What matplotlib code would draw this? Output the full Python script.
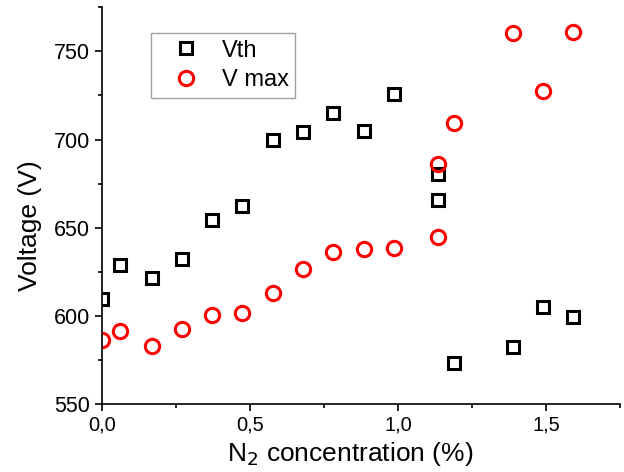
import matplotlib
matplotlib.use("Agg")
import matplotlib.pyplot as plt
from matplotlib.ticker import MultipleLocator, FixedLocator

plt.rcParams['font.family'] = ['Liberation Sans', 'DejaVu Sans']

x_vth = [0.0, 0.062, 0.169, 0.270, 0.373, 0.475, 0.578, 0.678, 0.782, 0.884, 0.988,
         1.134, 1.134, 1.188, 1.389, 1.490, 1.591]
vth = [609.4, 628.9, 621.2, 632.1, 654.3, 662.2, 700.0, 704.1, 715.1, 705.1, 726.0,
       680.2, 666.0, 573.2, 582.4, 605.3, 599.4]

x_vmax = [0.0, 0.062, 0.169, 0.270, 0.373, 0.475, 0.578, 0.678, 0.782, 0.884, 0.988,
          1.134, 1.134, 1.188, 1.389, 1.490, 1.591]
vmax = [586.2, 591.2, 582.7, 592.5, 600.6, 601.4, 612.7, 626.8, 636.2, 638.2, 638.7,
        645.0, 686.3, 709.5, 760.4, 727.8, 761.0]

xticks = [0.0, 0.5, 1.0, 1.5]
xtick_labels = ["0,0", "0,5", "1,0", "1,5"]
yticks = [550, 600, 650, 700, 750]
ytick_labels = ["550", "600", "650", "700", "750"]

fig = plt.figure(figsize=(6.24, 4.72), dpi=100)
ax = fig.add_axes([0.163, 0.144, 0.8306, 0.8405])

ax.plot(x_vth, vth, linestyle='none', marker='s', markersize=9.3,
        markerfacecolor='none', markeredgecolor='black', markeredgewidth=2.2,
        label='Vth')
ax.plot(x_vmax, vmax, linestyle='none', marker='o', markersize=10.3,
        markerfacecolor='none', markeredgecolor='red', markeredgewidth=2.2,
        label='V max')

ax.set_xlim(0, 1.75)
ax.set_ylim(550, 775)
ax.xaxis.set_major_locator(FixedLocator(xticks))
ax.set_xticklabels(xtick_labels)
ax.yaxis.set_major_locator(FixedLocator(yticks))
ax.set_yticklabels(ytick_labels)
ax.xaxis.set_minor_locator(MultipleLocator(0.25))
ax.yaxis.set_minor_locator(MultipleLocator(25))

for s in ['top', 'right']:
    ax.spines[s].set_visible(False)
for s in ['left', 'bottom']:
    ax.spines[s].set_linewidth(1.2)

ax.tick_params(which='major', direction='out', length=5, width=1.2, pad=3.6)
ax.tick_params(which='minor', direction='out', length=2.6, width=1.2)
ax.tick_params(axis='x', which='major', labelsize=14.5)
ax.tick_params(axis='y', which='major', labelsize=15.5)

ax.set_xlabel('N$_2$ concentration (%)', fontsize=19)
ax.set_ylabel('Voltage (V)', fontsize=19)
ax.xaxis.set_label_coords(0.479, -0.091)
ax.yaxis.set_label_coords(-0.115, 0.449)

leg = ax.legend(loc='upper left', bbox_to_anchor=(0.0945, 0.934), borderaxespad=0,
                fontsize=17, frameon=True, fancybox=False, edgecolor='#888888',
                handletextpad=0.26, borderpad=0.26, labelspacing=0.33, handlelength=2.5)
leg.get_frame().set_linewidth(1.0)

fig.savefig('out.png', dpi=100)
